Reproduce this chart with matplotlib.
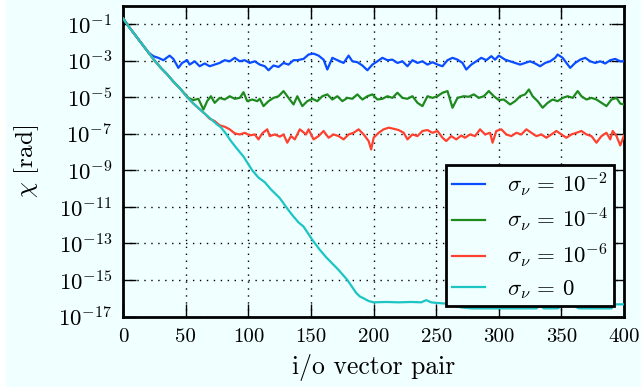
import matplotlib
matplotlib.use("Agg")
import matplotlib.pyplot as plt
from matplotlib.patches import Rectangle
from matplotlib.ticker import NullLocator, FixedLocator

plt.rcParams['font.family'] = 'serif'
plt.rcParams['font.serif'] = ['cmr10', 'DejaVu Serif']
plt.rcParams['mathtext.fontset'] = 'cm'
plt.rcParams['axes.unicode_minus'] = False
plt.rcParams['axes.formatter.use_mathtext'] = True

# ---- data (x = i/o vector pair, values = log10 of chi [rad]) ----
cyan_x = [0, 5, 10, 15, 20, 25, 30, 35, 40, 45, 51, 56, 60, 65, 70, 75, 78, 82, 86, 90,
          96, 103, 108, 113, 118, 125, 130, 135, 140, 144, 151, 157, 162, 167, 172, 179,
          183, 186, 189, 192, 196, 200, 210, 220, 230, 238, 242, 246, 250, 260, 270, 278,
          290, 300, 310, 320, 330, 333, 336, 347, 352, 358, 364, 370, 380, 390, 393, 400]
cyan_log = [-0.71, -1.2, -1.65, -2.1, -2.55, -3.0, -3.4, -3.75, -4.15, -4.5, -5.0, -5.35,
            -5.6, -5.9, -6.2, -6.5, -6.65, -7.0, -7.4, -7.75, -8.25, -9.0, -9.4, -9.65,
            -10.05, -10.52, -11.0, -11.45, -11.85, -12.08, -12.8, -13.35, -13.75, -14.1,
            -14.45, -15.0, -15.4, -15.7, -15.9, -16.0, -16.15, -16.22, -16.2, -16.22,
            -16.2, -16.22, -16.1, -16.22, -16.25, -16.3, -16.5, -16.55, -16.55, -16.55,
            -16.55, -16.55, -16.55, -16.4, -16.55, -16.55, -16.35, -16.35, -16.55, -16.55,
            -16.55, -16.55, -16.33, -16.33]

blue_x = [0, 5, 10, 15, 20, 24, 28, 32, 37, 40, 44, 47, 51, 53, 57, 61, 65, 69, 73, 77, 81,
          85, 89, 93, 97, 101, 105, 109, 113, 116, 120, 124, 128, 132, 136, 139, 144, 148,
          152, 156, 160, 163, 167, 171, 176, 180, 183, 187, 191, 195, 199, 203, 207, 211,
          215, 219, 223, 227, 231, 235, 239, 243, 247, 251, 255, 259, 263, 267, 271, 274,
          278, 282, 286, 290, 294, 297, 300, 305, 309, 313, 317, 321, 325, 329, 333, 337,
          341, 345, 347, 351, 354, 357, 361, 365, 369, 373, 377, 381, 385, 389, 393, 397, 400]
blue_log = [-0.71, -1.2, -1.65, -2.1, -2.55, -2.76, -2.85, -2.98, -2.73, -2.91, -3.40,
            -3.13, -2.98, -3.22, -3.04, -3.31, -3.16, -3.31, -3.22, -3.13, -2.98, -3.04,
            -2.85, -3.04, -2.98, -3.13, -3.04, -3.22, -3.31, -3.53, -3.27, -3.35, -3.13,
            -3.22, -2.98, -2.98, -2.91, -2.67, -2.62, -2.73, -2.95, -3.49, -2.85, -2.98,
            -3.13, -2.73, -3.04, -3.09, -3.27, -3.53, -3.22, -3.04, -2.85, -2.98, -2.95,
            -3.13, -3.04, -3.31, -2.98, -3.13, -3.04, -3.22, -3.09, -3.22, -3.31, -2.98,
            -2.85, -2.95, -3.13, -3.49, -3.22, -3.04, -2.85, -2.98, -2.76, -2.95, -2.73,
            -2.95, -3.04, -3.13, -3.22, -3.13, -3.04, -3.16, -3.31, -3.13, -3.04, -2.85,
            -2.67, -2.85, -3.13, -3.40, -3.13, -2.95, -2.85, -3.04, -3.13, -3.04, -3.16,
            -2.98, -2.91, -3.04, -3.04]

green_x = [0, 5, 10, 15, 20, 25, 30, 35, 40, 45, 52, 56, 60, 64, 67, 70, 73, 77, 81, 85,
           89, 93, 96, 99, 103, 107, 109, 112, 116, 120, 124, 128, 132, 136, 139, 143, 147,
           151, 155, 159, 163, 167, 171, 175, 179, 183, 187, 191, 195, 199, 203, 207, 211,
           215, 219, 223, 227, 231, 235, 239, 243, 247, 251, 255, 259, 263, 267, 272, 276,
           280, 284, 288, 292, 296, 300, 304, 309, 313, 317, 321, 324, 327, 331, 335, 339,
           343, 347, 351, 355, 359, 363, 366, 370, 374, 378, 382, 386, 390, 394, 397, 400]
green_log = [-0.71, -1.2, -1.65, -2.1, -2.55, -3.0, -3.4, -3.75, -4.15, -4.5, -5.04,
             -5.16, -5.09, -5.68, -5.22, -4.95, -5.31, -5.04, -5.13, -4.95, -5.09, -5.04,
             -4.73, -5.22, -5.13, -5.22, -5.09, -5.49, -5.22, -5.04, -4.95, -4.67, -5.04,
             -5.40, -4.95, -5.49, -5.22, -5.09, -5.22, -4.95, -4.85, -5.13, -4.95, -5.22,
             -5.04, -5.09, -4.85, -5.13, -4.95, -4.85, -5.13, -5.09, -4.95, -5.04, -4.76,
             -5.04, -5.09, -4.95, -5.31, -5.49, -4.95, -5.04, -4.95, -4.76, -4.67, -5.58,
             -5.04, -4.95, -4.98, -4.85, -5.04, -4.95, -4.67, -4.95, -5.16, -5.13, -5.40,
             -5.22, -4.95, -4.85, -4.58, -4.95, -5.22, -5.58, -5.31, -5.13, -5.22, -5.04,
             -4.95, -5.04, -4.67, -4.95, -5.13, -5.04, -5.13, -5.31, -5.49, -5.13, -5.04,
             -5.35, -5.40]

red_x = [0, 5, 10, 15, 20, 25, 30, 35, 40, 45, 51, 56, 60, 65, 69, 73, 77, 81, 85, 89, 93,
         97, 101, 105, 108, 111, 115, 117, 121, 125, 128, 131, 134, 137, 141, 146, 148, 152,
         156, 160, 164, 168, 172, 176, 180, 184, 188, 192, 196, 198, 200, 204, 208, 212, 216,
         220, 224, 227, 231, 235, 239, 243, 247, 251, 255, 258, 262, 266, 270, 273, 277, 281,
         285, 289, 293, 295, 298, 302, 306, 310, 314, 318, 322, 326, 330, 334, 338, 342, 346,
         350, 354, 358, 362, 366, 370, 374, 378, 382, 386, 389, 391, 394, 397, 400]
red_log = [-0.71, -1.2, -1.65, -2.1, -2.55, -3.0, -3.4, -3.75, -4.15, -4.5, -5.0, -5.35,
           -5.6, -5.9, -6.18, -6.31, -6.54, -6.62, -6.76, -6.98, -7.04, -6.95, -7.09, -7.04,
           -7.31, -6.98, -6.76, -7.13, -7.04, -7.16, -7.04, -7.49, -7.13, -7.31, -6.76,
           -7.04, -6.76, -7.31, -7.13, -6.85, -7.22, -7.04, -7.13, -7.31, -7.04, -6.95,
           -6.76, -7.04, -7.40, -7.86, -7.22, -6.95, -6.76, -6.67, -6.73, -6.80, -6.95,
           -7.31, -7.04, -7.13, -6.85, -6.80, -6.95, -6.85, -7.22, -7.40, -7.13, -7.31,
           -7.10, -7.22, -7.04, -7.13, -6.76, -7.04, -6.95, -7.49, -6.85, -6.76, -7.04,
           -7.13, -6.95, -7.04, -6.76, -6.95, -7.13, -7.04, -7.22, -7.04, -6.85, -7.04,
           -7.22, -7.04, -6.95, -6.85, -7.04, -7.13, -7.49, -7.13, -6.95, -7.31, -6.85,
           -7.13, -7.64, -7.10]

labels = [r'$\sigma_\nu \,=\, 10^{-2}$', r'$\sigma_\nu \,=\, 10^{-4}$',
          r'$\sigma_\nu \,=\, 10^{-6}$', r'$\sigma_\nu \,=\, 0$']
colors = ['#0a4cff', '#1e8a1e', '#ff4130', '#1cc4c4']
ytick_exps = [-1, -3, -5, -7, -9, -11, -13, -15, -17]
xticks = [0, 50, 100, 150, 200, 250, 300, 350, 400]

BG = '#f0ffff'
fig = plt.figure(figsize=(6.41, 3.88), dpi=100, facecolor='white')
fig.patches.append(Rectangle((6 / 641, 1 / 388), 1, 1, transform=fig.transFigure,
                             facecolor=BG, edgecolor='none', zorder=-10))
ax = fig.add_axes([123.3 / 641, 1 - 316.6 / 388, (624 - 123.3) / 641, (316.6 - 5.7) / 388])
ax.set_facecolor(BG)

series = [(blue_x, blue_log), (green_x, green_log), (red_x, red_log), (cyan_x, cyan_log)]
for (xs, ls), c, lab in zip(series, colors, labels):
    ax.plot(xs, [10 ** v for v in ls], color=c, lw=1.6, label=lab, zorder=3)

ax.set_yscale('log')
ax.set_xlim(0, 400)
ax.set_ylim(1e-17, 1e0)
ax.yaxis.set_major_locator(FixedLocator([10.0 ** e for e in ytick_exps]))
ax.yaxis.set_minor_locator(NullLocator())
ax.set_xticks(xticks)
ax.set_xticklabels([str(t) for t in xticks])
ax.set_yticklabels([r'$10^{%d}$' % e for e in ytick_exps])

ax.tick_params(axis='both', which='major', direction='in', length=9.5, width=1.0,
               top=True, right=True, pad=8, colors='black')
ax.tick_params(axis='x', labelsize=15)
ax.tick_params(axis='y', labelsize=16.5)
for s in ax.spines.values():
    s.set_linewidth(2.0)
ax.grid(True, which='major', color='black', linestyle=(0, (1, 4)), linewidth=1.0)

ax.set_xlabel('i/o vector pair', fontsize=18.5)
ax.set_ylabel(r'$\chi$ [rad]', fontsize=18)
ax.xaxis.set_label_coords(0.5, -(354 - 316.6) / 310.9)
ax.yaxis.set_label_coords(-(123.3 - 41) / 500.7, 0.5)

leg = ax.legend(loc='lower right', fontsize=16.5, frameon=True, fancybox=False,
                edgecolor='black', facecolor=BG, framealpha=1.0,
                handlelength=1.45, handletextpad=0.95, borderpad=0.25,
                labelspacing=0.33, borderaxespad=0.45)
leg.get_frame().set_linewidth(2.0)
leg.set_zorder(5)

fig.savefig('out.png', dpi=100, facecolor=fig.get_facecolor())
